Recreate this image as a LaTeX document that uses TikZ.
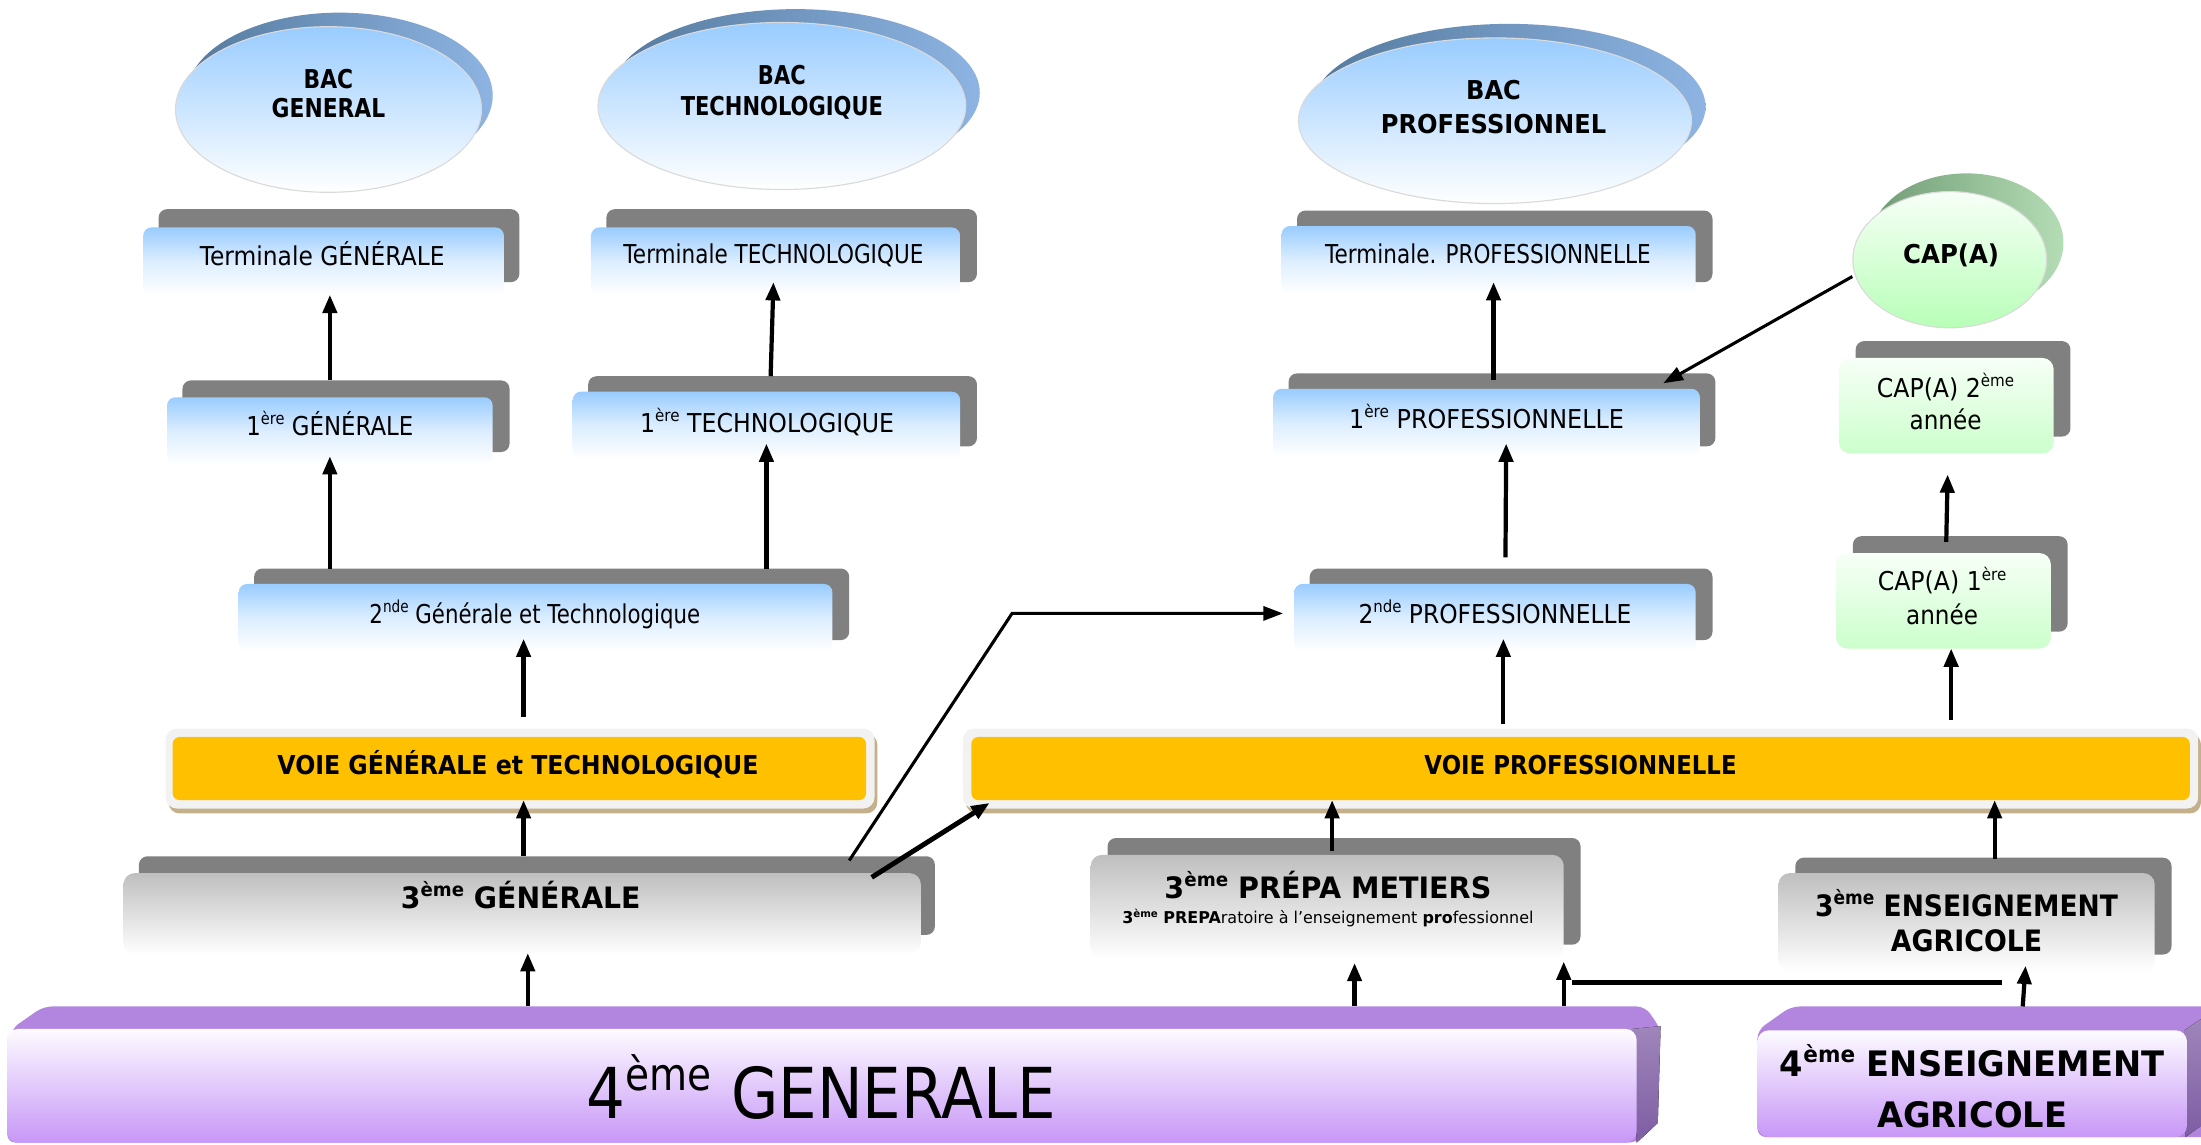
\documentclass[tikz,border=0pt]{standalone}
\usepackage{fontspec}
\setmainfont{DejaVu Sans}
\usepackage{graphicx}
\usetikzlibrary{arrows.meta,calc,shapes.geometric}
\definecolor{bluetop}{HTML}{99CCFF}
\definecolor{shgray}{HTML}{808080}
\definecolor{ellsa}{HTML}{557A9E}
\definecolor{ellsb}{HTML}{8DB4E2}
\definecolor{ellline}{HTML}{DADADA}
\definecolor{greenbot}{HTML}{CCFFCC}
\definecolor{greentop}{HTML}{F7FFF7}
\definecolor{greensa}{HTML}{6F9B74}
\definecolor{greensb}{HTML}{B5DDB5}
\definecolor{graytop}{HTML}{BFBFBF}
\definecolor{voieor}{HTML}{FFC000}
\definecolor{voiebd}{HTML}{F2F2F2}
\definecolor{voiesh}{HTML}{C4B08A}
\definecolor{purtop}{HTML}{FDFBFF}
\definecolor{purbot}{HTML}{C797F7}
\definecolor{purface}{HTML}{B286DE}
\definecolor{purside}{HTML}{7E5DA3}
\newcommand\fsz[1]{\fontsize{#1}{#1}\selectfont}
\newcommand\hs[2]{\scalebox{#1}[1]{#2}}
\newcommand\sps[1]{\raisebox{0.40em}{\scalebox{0.64}{#1}}}
\begin{document}
\begin{tikzpicture}[x=1pt,y=-1pt,
  shbox/.style={fill=shgray, rounded corners=6pt, inner sep=0pt, outer sep=0pt},
  bluebox/.style={rounded corners=6pt, top color=bluetop, bottom color=white, middle color=bluetop!35, inner sep=0pt, outer sep=0pt},
  greenbox/.style={rounded corners=8pt, top color=greentop, bottom color=greenbot, inner sep=0pt, outer sep=0pt},
  graybox/.style={rounded corners=8pt, top color=graytop, bottom color=white, inner sep=0pt, outer sep=0pt},
  ellmain/.style={ellipse, top color=bluetop, bottom color=white, draw=ellline, line width=0.8pt, inner sep=0pt},
  ellsh/.style={ellipse, left color=ellsa, right color=ellsb, inner sep=0pt},
  capmain/.style={ellipse, top color=greentop, bottom color=greenbot!90!green, draw=ellline, line width=0.8pt, inner sep=0pt},
  capsh/.style={ellipse, left color=greensa, right color=greensb, inner sep=0pt},
  voieout/.style={fill=voiebd, rounded corners=8pt, inner sep=0pt},
  voiesha/.style={fill=voiesh, rounded corners=8pt, inner sep=0pt},
  voiein/.style={fill=voieor, rounded corners=5pt, inner sep=0pt, outer sep=0pt},
  purbox/.style={rounded corners=8pt, top color=purtop, bottom color=purbot, inner sep=0pt, outer sep=0pt},
  tx/.style={inner sep=0pt, anchor=base, text=black},
  rg/.style={tx, font=\fsz{18.5}},
  bd/.style={tx, font=\fsz{18.5}\bfseries},
  arr/.style={line width=3pt, -{Triangle[length=13pt,width=10pt]}},
  thinarr/.style={line width=2.2pt, -{Triangle[length=14pt,width=10pt]}}
]
\useasboundingbox (0,0) rectangle (1568,815);
\fill[white] (0,0) rectangle (1568,815);

% ---------- BAC ellipses ----------
\node[ellsh, minimum width=218pt, minimum height=118pt] (bacgs) at (242,68) {};
\node[ellmain, minimum width=218pt, minimum height=118pt] (bacg) at (234,78) {};
\node[ellsh, minimum width=262pt, minimum height=119pt] (bacts) at (567,66) {};
\node[ellmain, minimum width=262pt, minimum height=119pt] (bact) at (557,75.5) {};
\node[ellsh, minimum width=280pt, minimum height=118pt] (bacps) at (1075,76) {};
\node[ellmain, minimum width=280pt, minimum height=118pt] (bacp) at (1065,86) {};
\node[capsh, minimum width=138pt, minimum height=99pt] (caps) at (1401,173) {};
\node[capmain, minimum width=138pt, minimum height=97pt] (cap) at (1389,185) {};

\node[bd] (bacg1) at (234,63) {\hs{.84}{BAC}};
\node[bd] (bacg2) at (234,84) {\hs{.84}{GENERAL}};
\node[bd] (bact1) at (557,60) {\hs{.81}{BAC}};
\node[bd] (bact2) at (557,82) {\hs{.81}{TECHNOLOGIQUE}};
\node[bd] (bacp1) at (1064,71) {\hs{.93}{BAC}};
\node[bd] (bacp2) at (1064,95) {\hs{.93}{PROFESSIONNEL}};
\node[bd] (capt) at (1390,188) {\hs{.94}{CAP(A)}};

% ---------- blue level boxes ----------
\node[shbox, minimum width=257pt, minimum height=52pt] (tgs) at (241.5,175) {};
\node[bluebox, minimum width=257pt, minimum height=48pt] (tg) at (230.5,186) {};
\node[shbox, minimum width=264pt, minimum height=52pt] (tts) at (564,175) {};
\node[bluebox, minimum width=263pt, minimum height=48pt] (tt) at (552.5,186) {};
\node[shbox, minimum width=233pt, minimum height=51pt] (g1s) at (246.5,296.5) {};
\node[bluebox, minimum width=232pt, minimum height=48pt] (g1) at (235,307) {};
\node[shbox, minimum width=277pt, minimum height=50pt] (t1s) at (557.5,293) {};
\node[bluebox, minimum width=276pt, minimum height=48pt] (t1) at (546,303) {};
\node[shbox, minimum width=424pt, minimum height=51pt] (gt2s) at (393,430.5) {};
\node[bluebox, minimum width=423pt, minimum height=48pt] (gt2) at (381.5,440) {};
\node[shbox, minimum width=296pt, minimum height=51pt] (tps) at (1072,175.5) {};
\node[bluebox, minimum width=295pt, minimum height=48pt] (tp) at (1060.5,185) {};
\node[shbox, minimum width=304pt, minimum height=52pt] (p1s) at (1070,292) {};
\node[bluebox, minimum width=304pt, minimum height=48pt] (p1) at (1059,301) {};
\node[shbox, minimum width=287pt, minimum height=51pt] (p2s) at (1076.5,430.5) {};
\node[bluebox, minimum width=286pt, minimum height=48pt] (p2) at (1065,440) {};

\node[rg] (tgt) at (229.5,189) {\hs{.90}{Terminale GÉNÉRALE}};
\node[rg] (ttt) at (551,188) {\hs{.83}{Terminale TECHNOLOGIQUE}};
\node[rg] (g1t) at (235,310) {\hs{.88}{1\sps{ère} GÉNÉRALE}};
\node[rg] (t1t) at (546.5,308) {\hs{.91}{1\sps{ère} TECHNOLOGIQUE}};
\node[rg] (gt2t) at (381,444) {\hs{.82}{2\sps{nde} Générale et Technologique}};
\node[rg] (tpt) at (1060,188) {\hs{.83}{Terminale. PROFESSIONNELLE}};
\node[rg] (p1t) at (1059,305) {\hs{.92}{1\sps{ère} PROFESSIONNELLE}};
\node[rg] (p2t) at (1065,444) {\hs{.90}{2\sps{nde} PROFESSIONNELLE}};

% ---------- green CAP boxes ----------
\node[shbox, minimum width=153pt, minimum height=68pt] (cap2s) at (1398.5,277) {};
\node[greenbox, minimum width=153pt, minimum height=68pt] (cap2) at (1386.5,289) {};
\node[shbox, minimum width=153pt, minimum height=68pt] (cap1s) at (1396.5,416) {};
\node[greenbox, minimum width=153pt, minimum height=68pt] (cap1) at (1384.5,428) {};
\node[rg] (cap2t1) at (1386,283) {\hs{.91}{CAP(A) 2\sps{ème}}};
\node[rg] (cap2t2) at (1386,306) {\hs{.89}{année}};
\node[rg] (cap1t1) at (1383.5,421) {\hs{.91}{CAP(A) 1\sps{ère}}};
\node[rg] (cap1t2) at (1383.5,445) {\hs{.89}{année}};

% ---------- VOIE bars ----------
\node[voiesha, minimum width=505pt, minimum height=57pt] (vgtsh) at (372.5,551) {};
\node[voieout, minimum width=505pt, minimum height=57pt] (vgto) at (370.5,547.5) {};
\node[voiein, minimum width=494pt, minimum height=45pt] (vgt) at (370,547.5) {};
\node[voiesha, minimum width=880pt, minimum height=57pt] (vprosh) at (1128,551) {};
\node[voieout, minimum width=880pt, minimum height=57pt] (vproo) at (1126,547.5) {};
\node[voiein, minimum width=868pt, minimum height=45pt] (vpro) at (1126,547.5) {};
\node[bd] (vgtt) at (369,552) {\hs{.91}{VOIE GÉNÉRALE et TECHNOLOGIQUE}};
\node[bd] (vprot) at (1126,552) {\hs{.88}{VOIE PROFESSIONNELLE}};

% ---------- gray 3eme boxes ----------
\node[shbox, minimum width=567pt, minimum height=56pt] (g3s) at (382.5,638) {};
\node[graybox, minimum width=568pt, minimum height=58pt] (g3) at (372,651) {};
\node[shbox, minimum width=337pt, minimum height=76pt] (prepas) at (957.5,635) {};
\node[graybox, minimum width=337pt, minimum height=74pt] (prepa) at (945.5,646) {};
\node[shbox, minimum width=268pt, minimum height=69pt] (agri3s) at (1413,645.5) {};
\node[graybox, minimum width=268pt, minimum height=70pt] (agri3) at (1401,657) {};
\node[tx, font=\fsz{21}\bfseries] (g3t) at (371,647) {\hs{.96}{3\sps{ème} GÉNÉRALE}};
\node[tx, font=\fsz{21}\bfseries] (prepat1) at (946,640) {\hs{.97}{3\sps{ème} PRÉPA METIERS}};
\node[tx, font=\fsz{11.6}] (prepat2) at (946,658) {\hs{.98}{\textbf{3\sps{ème} PREPA}ratoire à l’enseignement \textbf{pro}fessionnel}};
\node[tx, font=\fsz{21}\bfseries] (agri3t1) at (1401,653) {\hs{.90}{3\sps{ème} ENSEIGNEMENT}};
\node[tx, font=\fsz{21}\bfseries] (agri3t2) at (1401,678) {\hs{.91}{AGRICOLE}};

% ---------- purple 4eme blocks ----------
\fill[purface, rounded corners=6pt] (31,717) -- (1172,717) -- (1183,733) -- (1181,800) -- (1166,814) -- (5,814) -- (8,733) -- cycle;
\fill[top color=purside!75, bottom color=purside] (1163,733) -- (1183,731) -- (1181,800) -- (1166,814) -- cycle;
\node[purbox, minimum width=1161pt, minimum height=81pt] (g4) at (585.5,773.5) {};
\node[tx, font=\fsz{50}] (g4t) at (585,797) {\hs{.87}{4\sps{ème} GENERALE}};

\fill[purface, rounded corners=6pt] (1276,717) -- (1575,717) -- (1575,810) -- (1252,810) -- (1252,734) -- cycle;
\fill[top color=purside!75, bottom color=purside] (1556,734) -- (1568,726) -- (1568,802) -- (1557,810) -- cycle;
\node[purbox, minimum width=306pt, minimum height=76pt] (agri4) at (1405,772) {};
\node[tx, font=\fsz{25}\bfseries] (agri4t1) at (1405,767) {\hs{.96}{4\sps{ème} ENSEIGNEMENT}};
\node[tx, font=\fsz{25}\bfseries] (agri4t2) at (1405,803) {\hs{.96}{AGRICOLE}};

% ---------- connectors ----------
\draw[arr] (g1.center |- g1s.north) -- (g1.center |- tg.south);
\draw[arr] ($(t1s.north)+(-8.5,0)$) -- ($(tt.south)+(-1.5,-9)$);
\draw[arr] (g1.center |- gt2s.north) -- ($(g1.south)+(0,-6)$);
\draw[arr] (t1.center |- gt2s.north) -- ($(t1.south)+(0,-11)$);
\draw[arr] ($(vgto.north)+(2.5,-8)$) -- ($(gt2.south)+(-8.5,-9)$);
\draw[arr] ($(g3s.north)+(-9.5,0)$) -- ($(vgt.south)+(3,0)$);
\draw[arr] ($(g4.north)+(-209.5,-16)$) -- ($(g3.south)+(4,-1)$);
\draw[thinarr] ($(g3s.north)+(222.5,3)$) -- ($(p2.west)+(-201,-3)$) -- ($(p2.west)+(-8,-3)$);
\draw[arr, line width=3.5pt] ($(g3.north east)+(-35,3)$) -- ($(vpro.south west)+(13,2)$);
\draw[arr] ($(vproo.north)+(-55,-3)$) -- ($(p2.south)+(6,-9)$);
\draw[arr] ($(p2s.north)+(-4,-8)$) -- ($(p1.south)+(14,-9)$);
\draw[arr] ($(p1s.north)+(-6,5)$) -- ($(tp.south)+(3.5,-8)$);
\draw[thinarr] ($(cap.west)+(0,12)$) -- ($(p1s.north east)+(-37,7)$);
\draw[arr] ($(cap1s.north)+(-10,4)$) -- ($(cap2.south)+(1,15)$);
\draw[arr] ($(vproo.north)+(264,-6)$) -- ($(cap1.south)+(5.5,0)$);
\draw[arr] ($(prepas.north)+(-8.5,9)$) -- ($(vpro.south)+(-177,0)$);
\draw[arr] ($(agri3s.north)+(8,1)$) -- ($(vpro.south)+(295,0)$);
\draw[arr] ($(g4.north)+(379.5,-16)$) -- ($(prepa.south)+(19.5,3)$);
\draw[arr] ($(g4.north)+(528.5,-16)$) -- ($(prepa.south east)+(0,2)$);
\coordinate (hl1) at (1120,700);
\coordinate (hl2) at (1426,700);
\draw[line width=3.8pt] (hl1) -- (hl2);
\draw[arr] ($(agri4.north)+(36,-17)$) -- ($(agri3.south)+(42,-4)$);
\end{tikzpicture}
\end{document}
